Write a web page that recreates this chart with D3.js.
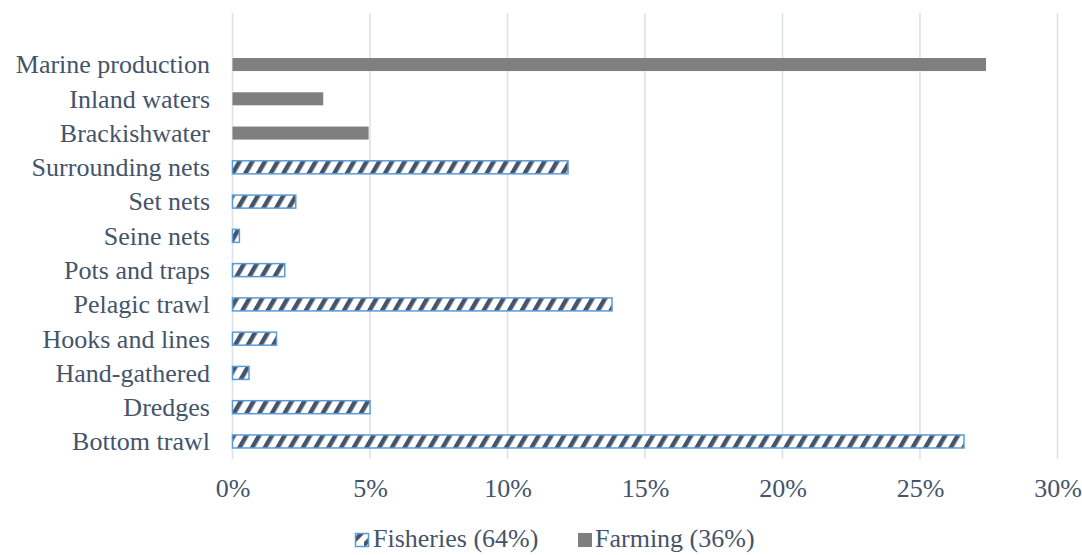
<!DOCTYPE html>
<html>
<head>
<meta charset="utf-8">
<script src="https://cdn.jsdelivr.net/npm/d3@7"></script>
<style>
  html, body { margin: 0; padding: 0; background: #fff; }
  svg { display: block; }
  svg text { fill: #44546a; }
</style>
</head>
<body>
<svg id="chart" width="1082" height="555"></svg>
<script>
// Categories from bottom to top as shown
const categories = ["Bottom trawl", "Dredges", "Hand-gathered", "Hooks and lines", "Pelagic trawl",
  "Pots and traps", "Seine nets", "Set nets", "Surrounding nets", "Brackishwater", "Inland waters", "Marine production"];
const fisheries = [26.6, 5.0, 0.6, 1.6, 13.8, 1.9, 0.25, 2.3, 12.2, null, null, null];
const farming   = [null, null, null, null, null, null, null, null, null, 4.95, 3.3, 27.4];
const xTicks = [0, 5, 10, 15, 20, 25, 30];
const legendLabels = ["Fisheries (64%)", "Farming (36%)"];

const FONT = "'Liberation Serif', 'Times New Roman', serif";
const FS = "26px";
const svg = d3.select("#chart");
const defs = svg.append("defs");
const pat = defs.append("pattern")
  .attr("id", "diag")
  .attr("patternUnits", "userSpaceOnUse")
  .attr("width", 11).attr("height", 11)
  .attr("patternTransform", "rotate(30)");
pat.append("rect").attr("width", 11).attr("height", 11).attr("fill", "#fff");
pat.append("rect").attr("x", 0).attr("width", 4.5).attr("height", 11).attr("fill", "#44546a");

const pat2 = defs.append("pattern")
  .attr("id", "diagLeg")
  .attr("patternUnits", "userSpaceOnUse")
  .attr("width", 14).attr("height", 14);
pat2.append("rect").attr("width", 14).attr("height", 14).attr("fill", "#fff");
pat2.append("path").attr("d", "M0,14 L0,10 L10,0 L14,0 L14,2 L2,14 Z").attr("fill", "#44546a");

const x = d3.scaleLinear().domain([0, 30]).range([232.5, 1057.5]);
const y = d3.scaleBand().domain(categories.slice().reverse())
  .range([47.4, 458.6]).paddingInner(0.62).paddingOuter(0.31);

// gridlines
svg.append("g").selectAll("line").data(xTicks).join("line")
  .attr("x1", d => x(d)).attr("x2", d => x(d))
  .attr("y1", 13).attr("y2", 459)
  .attr("stroke", "#dde1e8").attr("stroke-width", 1.6);

// x axis labels
const xAxis = d3.axisBottom(x).tickValues(xTicks).tickFormat(d => d + "%").tickSize(0).tickPadding(0);
const gx = svg.append("g").attr("transform", "translate(0,478)").call(xAxis);
gx.select(".domain").remove();
gx.selectAll("text").attr("dy", "0.74em").attr("fill", "#44546a")
  .style("font-family", FONT).style("font-size", FS);

// y labels
const yAxis = d3.axisLeft(y).tickSize(0).tickPadding(0);
const gy = svg.append("g").attr("transform", "translate(210,0)").call(yAxis);
gy.select(".domain").remove();
gy.selectAll("text").attr("dy", "0.34em").attr("fill", "#44546a")
  .style("font-family", FONT).style("font-size", FS);

// fisheries bars
const rows = categories.map((c, i) => ({ c, f: fisheries[i], m: farming[i] }));
svg.append("g").selectAll("rect").data(rows.filter(d => d.f != null)).join("rect")
  .attr("x", x(0)).attr("y", d => y(d.c))
  .attr("width", d => x(d.f) - x(0)).attr("height", y.bandwidth())
  .attr("fill", "url(#diag)").attr("stroke", "#5b9bd5").attr("stroke-width", 1.5);

// farming bars
svg.append("g").selectAll("rect").data(rows.filter(d => d.m != null)).join("rect")
  .attr("x", x(0)).attr("y", d => y(d.c))
  .attr("width", d => x(d.m) - x(0)).attr("height", y.bandwidth())
  .attr("fill", "#7f7f7f");

// legend
const leg = svg.append("g");
leg.append("rect").attr("x", 355.5).attr("y", 533.5).attr("width", 13).attr("height", 13)
  .attr("fill", "url(#diagLeg)").attr("stroke", "#5b9bd5").attr("stroke-width", 1.5);
leg.append("text").attr("x", 373).attr("y", 547).text(legendLabels[0])
  .style("font-family", FONT).style("font-size", FS);
leg.append("rect").attr("x", 578).attr("y", 533).attr("width", 14).attr("height", 14)
  .attr("fill", "#7f7f7f");
leg.append("text").attr("x", 595).attr("y", 547).text(legendLabels[1])
  .style("font-family", FONT).style("font-size", FS);
</script>
</body>
</html>
